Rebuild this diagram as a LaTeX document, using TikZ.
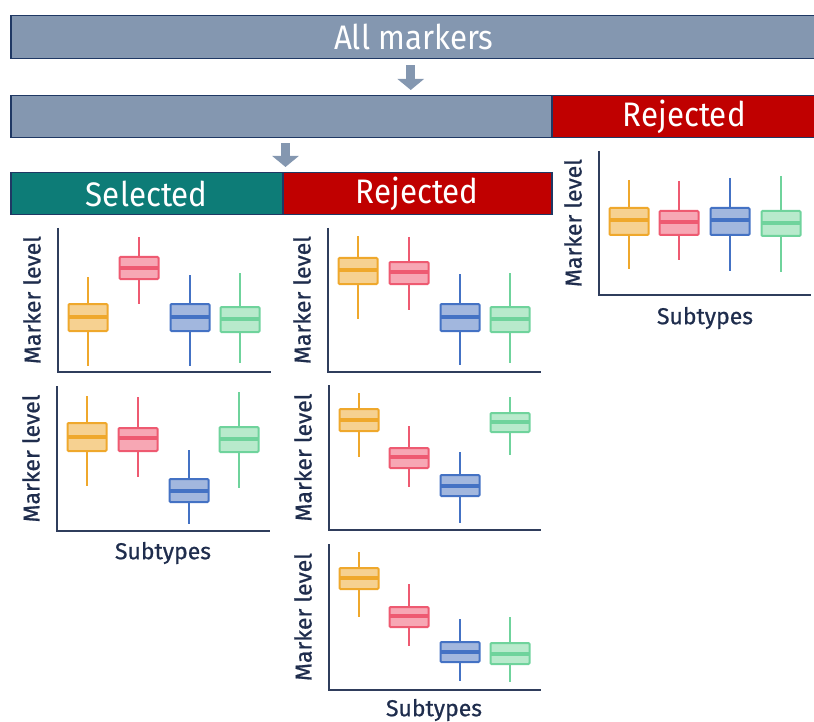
\documentclass[tikz,border=0pt]{standalone}
\usepackage{fontspec}
\setmainfont{Fira Sans}
\newfontfamily\headfont{Fira Sans}[FakeStretch=0.92]
\newfontfamily\labfont{Fira Sans}[FakeBold=0.8]
\usetikzlibrary{arrows.meta}
\definecolor{barGray}{HTML}{8497B0}
\definecolor{barRed}{HTML}{C00000}
\definecolor{barTeal}{HTML}{0D7C77}
\definecolor{barLine}{HTML}{1F3864}
\definecolor{txt}{HTML}{1F2D4D}
\definecolor{axiscol}{HTML}{2F3D5C}
\definecolor{yel}{HTML}{EFA82C}
\definecolor{yelfill}{HTML}{F6D191}
\definecolor{pnk}{HTML}{EE5A71}
\definecolor{pnkfill}{HTML}{F7A7B4}
\definecolor{blu}{HTML}{4472C4}
\definecolor{blufill}{HTML}{A2B7DE}
\definecolor{grn}{HTML}{6FD39C}
\definecolor{grnfill}{HTML}{B8EACC}
\tikzset{
  bar/.style={draw=barLine, line width=1.5pt, inner sep=0pt, anchor=north west,
    text=white, font=\headfont\fontsize{34}{40}\selectfont},
  blockarrow/.style={draw=barGray, line width=9pt, -{Triangle[width=26pt,length=11pt]}},
  axisline/.style={draw=axiscol, line width=2.2pt},
  ylab/.style={rotate=90, text=txt, font=\labfont\fontsize{23}{28}\selectfont, inner sep=0pt},
  xlab/.style={text=txt, font=\labfont\fontsize{23}{28}\selectfont, inner sep=0pt},
  whisk/.style={line width=1.6pt},
  boxst/.style={line width=2pt, rounded corners=1pt},
  medl/.style={line width=3.2pt},
}
\newcommand\bx[7]{%
  \draw[whisk,draw=#7] (#1,#5) -- (#1,#6);
  \draw[boxst,draw=#7,fill=#7fill] ({#1-19.5},#2) rectangle ({#1+19.5},#3);
  \draw[medl,draw=#7] ({#1-19.5},#4) -- ({#1+19.5},#4);
}
\newcommand\panel[5]{%
  \draw[axisline] (#1,#2) -- (#1,#3) -- (#4,#3);
  \node[ylab] (#5) at ({#1-26},{(#2+#3)/2}) {Marker level};
}
\begin{document}
\begin{tikzpicture}[x=1pt,y=-1pt]
\useasboundingbox (0,0) rectangle (814,722);
% header bars
\node[bar, fill=barGray, minimum width=806, minimum height=43] (all) at (10,15) {All markers};
\node[bar, fill=barGray, minimum width=541, minimum height=42] (grey) at (10,95) {};
\node[bar, fill=barRed, minimum width=265, minimum height=42] (rej1) at (551,95) {Rejected};
\node[bar, fill=barTeal, minimum width=272, minimum height=42] (sel) at (10,172) {Selected};
\node[bar, fill=barRed, minimum width=269, minimum height=42] (rej2) at (282,172) {Rejected};
% arrows
\draw[blockarrow] ([xshift=-3pt,yshift=-6pt]all.south) -- ([xshift=-3pt,yshift=5pt]all.south |- grey.north);
\coordinate (a2top) at ([xshift=2pt,yshift=-5pt]sel.north east |- grey.south);
\coordinate (a2tip) at ([xshift=2pt,yshift=5pt]sel.north east);
\draw[blockarrow] (a2top) -- (a2tip);
% panel right
\panel{599}{151}{295}{811}{ml3}
\node[xlab] (st3) at (705,318) {Subtypes};
\bx{629}{208}{235}{220}{180}{269}{yel}
\bx{679}{211}{235}{222}{181}{260}{pnk}
\bx{730}{208}{235}{220}{178}{271}{blu}
\bx{781}{211}{236}{223}{176}{272}{grn}
% panel left row 1
\panel{58}{228}{372}{271}{ml1}
\bx{88}{304}{331}{317}{277}{366}{yel}
\bx{139}{257}{279}{268}{237}{304}{pnk}
\bx{190}{304}{331}{317}{275}{366}{blu}
\bx{240}{307}{332}{319}{273}{363}{grn}
% panel middle row 1
\panel{328}{228}{372}{541}{ml2}
\bx{358}{258}{284}{270}{236}{319}{yel}
\bx{409}{262}{284}{272}{237}{310}{pnk}
\bx{460}{304}{331}{317}{274}{365}{blu}
\bx{510}{307}{332}{319}{273}{363}{grn}
% panel left row 2
\panel{57}{386}{531}{270}{ml4}
\node[xlab] (st4) at (163,553) {Subtypes};
\bx{87}{423}{451}{437}{396}{486}{yel}
\bx{138}{428}{451}{438}{397}{477}{pnk}
\bx{189}{479}{502}{491}{450}{524}{blu}
\bx{239}{427}{452}{439}{392}{488}{grn}
% panel middle row 2
\panel{329}{385}{530}{541}{ml5}
\bx{359}{409}{431}{420}{393}{457}{yel}
\bx{409}{448}{468}{457}{426}{487}{pnk}
\bx{460}{475}{496}{486}{452}{523}{blu}
\bx{510}{413}{432}{422}{397}{455}{grn}
% panel middle row 3
\panel{329}{544}{690}{541}{ml6}
\node[xlab] (st6) at (434,710) {Subtypes};
\bx{359}{568}{589}{578}{552}{617}{yel}
\bx{409}{607}{627}{616}{584}{646}{pnk}
\bx{460}{642}{662}{652}{619}{681}{blu}
\bx{510}{643}{664}{654}{617}{682}{grn}
\end{tikzpicture}
\end{document}
